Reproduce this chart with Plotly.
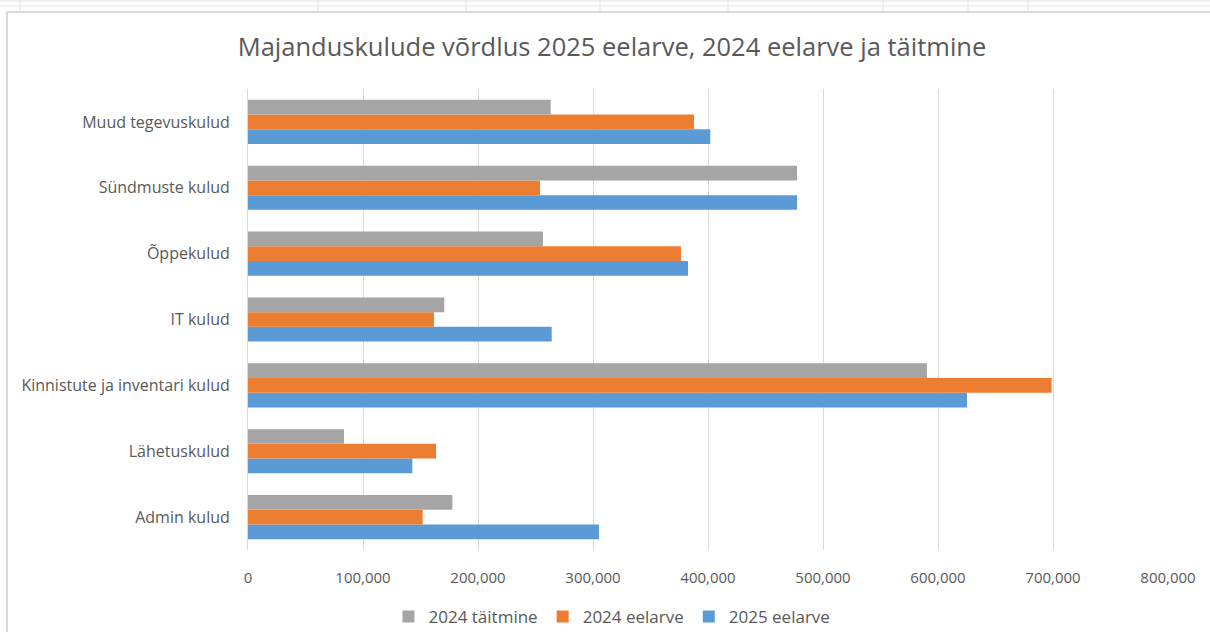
import plotly.graph_objects as go

# bottom-to-top order, as plotly draws categorical y axes
categories = [
    "Admin kulud",
    "Lähetuskulud",
    "Kinnistute ja inventari kulud",
    "IT kulud",
    "Õppekulud",
    "Sündmuste kulud",
    "Muud tegevuskulud",
]
eelarve_2025 = [305200, 142900, 625200, 264100, 382600, 477400, 402000]
eelarve_2024 = [151900, 163500, 698800, 161700, 376500, 253900, 387800]
taitmine_2024 = [177700, 83500, 590400, 170700, 256500, 477400, 263200]

x_ticks = [0, 100000, 200000, 300000, 400000, 500000, 600000, 700000, 800000]

BLUE = "#5B9BD5"
ORANGE = "#ED7D31"
GRAY = "#A5A5A5"
TEXT = "#595959"
GRID = "#D9D9D9"
FONT = "'Open Sans', sans-serif"

W, H = 1210, 632
L, R, T, B = 248, 42, 89, 82


def px(x):
    return (x - L) / (W - L - R)


def py(y):
    return (H - B - y) / (H - T - B)


fig = go.Figure()
for name, vals, col in [
    ("2025 eelarve", eelarve_2025, BLUE),
    ("2024 eelarve", eelarve_2024, ORANGE),
    ("2024 täitmine", taitmine_2024, GRAY),
]:
    fig.add_trace(go.Bar(
        x=vals, y=categories, name=name, orientation="h",
        marker=dict(color=col, line=dict(width=0)),
    ))

line = dict(color=GRID, width=2)
thin = dict(color="#E3E3E3", width=1)
shapes = [
    # chart frame
    dict(type="line", xref="paper", yref="paper", x0=px(7), x1=px(1215), y0=py(12), y1=py(12), line=line),
    dict(type="line", xref="paper", yref="paper", x0=px(7), x1=px(7), y0=py(12), y1=py(640), line=line),
    # spreadsheet grid above the chart
    dict(type="line", xref="paper", yref="paper", x0=px(0), x1=px(1215), y0=py(1), y1=py(1), line=thin),
    dict(type="line", xref="paper", yref="paper", x0=px(0), x1=px(1215), y0=py(6), y1=py(6), line=thin),
]
for vx in [20, 318, 466, 600, 728, 883, 968, 1028]:
    shapes.append(dict(type="line", xref="paper", yref="paper", x0=px(vx), x1=px(vx),
                       y0=py(0), y1=py(11), line=thin))

fig.update_layout(
    width=W, height=H,
    margin=dict(l=L, r=R, t=T, b=B, autoexpand=False),
    paper_bgcolor="white", plot_bgcolor="white",
    font=dict(family=FONT, color=TEXT, size=16),
    title=dict(text="Majanduskulude võrdlus 2025 eelarve, 2024 eelarve ja täitmine",
               xref="container", x=612 / W, xanchor="center",
               yref="container", y=1 - 47 / H, yanchor="middle",
               font=dict(size=25.5, color=TEXT, family=FONT)),
    barmode="group", bargap=0.33, bargroupgap=0,
    xaxis=dict(range=[0, 800000], tickvals=x_ticks, tickformat=",", showgrid=True,
               gridcolor=GRID, gridwidth=1, zeroline=False, showline=False,
               ticklabelstandoff=17, tickfont=dict(size=15, color=TEXT), automargin=False),
    yaxis=dict(showline=True, linecolor=GRID, linewidth=1, showgrid=False,
               ticklabelstandoff=14, tickfont=dict(size=16, color=TEXT), automargin=False),
    legend=dict(orientation="h", x=px(612), xanchor="center", y=py(617), yanchor="middle",
                traceorder="reversed", font=dict(size=17, color=TEXT),
                itemwidth=30),
    shapes=shapes,
    showlegend=True,
)

fig.write_html("out.html", config={"displayModeBar": False},
               post_script="document.body.style.margin='0px';document.body.style.overflow='hidden';")
